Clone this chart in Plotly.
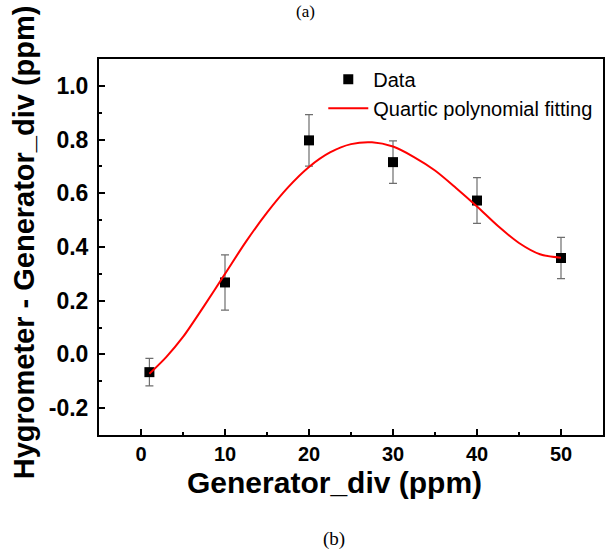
import plotly.graph_objects as go

# Data
x_data = [1, 10, 20, 30, 40, 50]
y_data = [-0.066, 0.268, 0.797, 0.716, 0.573, 0.359]
y_err = [0.051, 0.103, 0.096, 0.079, 0.085, 0.077]

# Fitted curve
x_fit = [1, 3, 5, 7.5, 10, 12.5, 15, 17.5, 20, 22.5, 25, 27.5, 30, 32.5, 35,
         37.5, 40, 42.5, 45, 47.5, 50]
y_fit = [-0.072, -0.01, 0.065, 0.18, 0.30, 0.42, 0.528, 0.622, 0.698, 0.752, 0.783,
         0.790, 0.774, 0.735, 0.685, 0.62, 0.551, 0.478, 0.415, 0.373, 0.36]

x_ticks = [0, 10, 20, 30, 40, 50]
y_ticks = [-0.2, 0.0, 0.2, 0.4, 0.6, 0.8, 1.0]
y_tick_labels = ["-0.2", "0.0", "0.2", "0.4", "0.6", "0.8", "1.0"]

fig = go.Figure()
fig.add_trace(go.Scatter(
    x=x_data, y=y_data, mode="markers", name="Data",
    marker=dict(symbol="square", size=10, color="black"),
    error_y=dict(type="data", array=y_err, visible=True, color="#6e6e6e",
                 thickness=1.2, width=4),
))
fig.add_trace(go.Scatter(
    x=x_fit, y=y_fit, mode="lines", name="Quartic polynomial fitting",
    line=dict(color="red", width=2, shape="spline", smoothing=0.8),
))

axis_common = dict(
    showline=True, linecolor="black", linewidth=2, mirror=True,
    ticks="inside", ticklen=6, tickwidth=1.5, tickcolor="black",
    showgrid=False, zeroline=False,
)

fig.update_xaxes(
    range=[-5, 55], tickvals=x_ticks,
    ticktext=["<b>%d</b>" % v for v in x_ticks],
    tickfont=dict(family="Liberation Sans, Arial", size=20, color="black"),
    minor=dict(ticks="inside", ticklen=3, tickwidth=1.5, tickcolor="black", dtick=5, tick0=0),
    **axis_common,
)
fig.update_yaxes(
    range=[-0.3, 1.1], tickvals=y_ticks,
    ticktext=["<b>%s</b>" % t for t in y_tick_labels],
    tickfont=dict(family="Liberation Sans, Arial", size=23, color="black"),
    ticklabelstandoff=4,
    minor=dict(ticks="inside", ticklen=3, tickwidth=1.5, tickcolor="black", dtick=0.1, tick0=0),
    **axis_common,
)

fig.update_layout(
    width=612, height=552,
    margin=dict(l=99, r=7, t=59, b=117),
    plot_bgcolor="white", paper_bgcolor="white",
    showlegend=True,
    legend=dict(x=0.445, y=0.998, xanchor="left", yanchor="top",
                bgcolor="rgba(0,0,0,0)", borderwidth=0,
                font=dict(family="Liberation Sans, Arial", size=20, color="black"),
                itemwidth=40, tracegroupgap=0),
    annotations=[
        dict(text="<b>Generator_div (ppm)</b>", x=335, y=482, xref="paper", yref="paper",
             showarrow=False, xanchor="center", yanchor="middle",
             font=dict(family="Liberation Sans, Arial", size=30, color="black")),
        dict(text="<b>Hygrometer - Generator_div (ppm)</b>", x=24, y=242, xref="paper", yref="paper",
             showarrow=False, xanchor="center", yanchor="middle", textangle=-90,
             font=dict(family="Liberation Sans, Arial", size=29, color="black")),
        dict(text="(a)", x=306, y=11, xref="paper", yref="paper", xanchor="center", yanchor="middle",
             showarrow=False, font=dict(family="Liberation Serif, Times New Roman", size=17, color="black")),
        dict(text="(b)", x=335, y=539, xref="paper", yref="paper", xanchor="center", yanchor="middle",
             showarrow=False, font=dict(family="Liberation Serif, Times New Roman", size=19, color="black")),
    ],
)

# convert pixel positions of annotations to paper coordinates
pl, pr, pt, pb = 99, 7, 59, 117
pw, ph = 612 - pl - pr, 552 - pt - pb
for a in fig.layout.annotations:
    a.x = (a.x - pl) / pw
    a.y = 1 - (a.y - pt) / ph

fig.write_html("out.html")
